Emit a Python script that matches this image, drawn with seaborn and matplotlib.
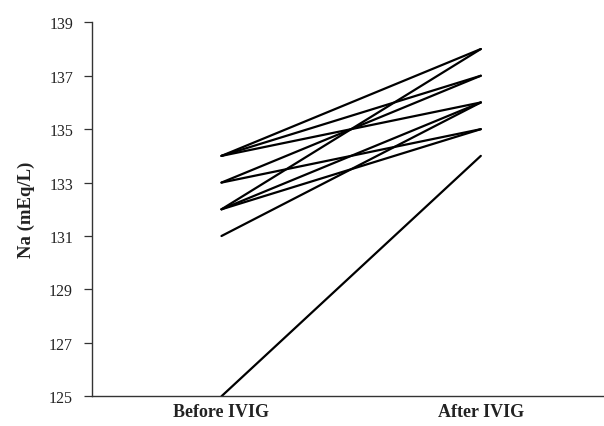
import matplotlib
matplotlib.use("Agg")
import matplotlib.pyplot as plt
import seaborn as sns
import pandas as pd

# Data
subjects = list(range(1, 11))
before_ivig = [134, 134, 134, 133, 133, 132, 132, 132, 131, 125]
after_ivig = [138, 137, 136, 137, 135, 138, 136, 135, 136, 134]
time_labels = ["Before IVIG", "After IVIG"]
y_ticks = [125, 127, 129, 131, 133, 135, 137, 139]

rows = []
for s, b, a in zip(subjects, before_ivig, after_ivig):
    rows.append({"subject": s, "time": time_labels[0], "Na": b})
    rows.append({"subject": s, "time": time_labels[1], "Na": a})
df = pd.DataFrame(rows)

sns.set_style("ticks")
plt.rcParams["font.family"] = ["Liberation Serif", "DejaVu Serif"]

fig = plt.figure(figsize=(6.04, 4.27), dpi=100)
ax = fig.add_axes([0.152, 0.0696, 0.848, 0.8758])

sns.lineplot(data=df, x="time", y="Na", units="subject", estimator=None,
             color="black", linewidth=1.6, ax=ax, legend=False)

ax.set_ylim(125, 139)
ax.set_xlim(-0.5, 1.475)
ax.set_yticks(y_ticks)
ax.set_yticklabels([str(t) for t in y_ticks], fontsize=11.5, color="#222222")
ax.set_xticks([0, 1])
ax.set_xticklabels(time_labels, fontsize=13, fontweight="bold", color="#222222")
ax.tick_params(axis="x", length=0, pad=5)
ax.tick_params(axis="y", length=5.5, width=0.9, color="#333333", pad=8)
ax.set_xlabel("")
ax.set_ylabel("Na (mEq/L)", fontsize=13.5, fontweight="bold", color="#222222", labelpad=10)

for side in ["top", "right"]:
    ax.spines[side].set_visible(False)
for side in ["left", "bottom"]:
    ax.spines[side].set_color("#333333")
    ax.spines[side].set_linewidth(1.0)

fig.savefig("out.png", dpi=100)
